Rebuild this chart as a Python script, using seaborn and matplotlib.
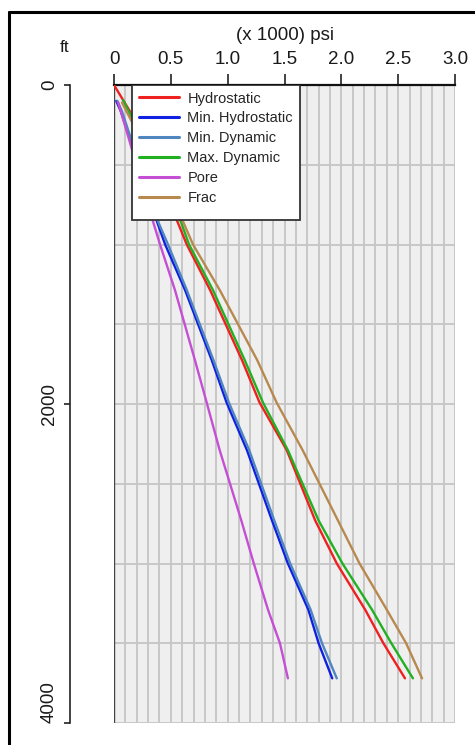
import numpy as np
import pandas as pd
import matplotlib
matplotlib.use("Agg")
import matplotlib.pyplot as plt
from matplotlib.lines import Line2D
from matplotlib.patches import Rectangle
import seaborn as sns

# Pressure profiles versus true vertical depth (pressure in thousands of psi)
series_names = ["Hydrostatic", "Min. Hydrostatic", "Min. Dynamic",
                "Max. Dynamic", "Pore", "Frac"]
series_colors = ["#ee2020", "#1020e0", "#4f86bf", "#22b022", "#c44fd4", "#b8894f"]

# shallow starting point of each curve
top_depth_ft = [0, 100, 100, 95, 107, 110]
top_psi_k = [0.0, 0.02, 0.03, 0.08, 0.035, 0.07]

# common reading depths below the surface section
depth_ft = [165, 860, 1000, 1285, 1725, 1990, 2290, 2730, 3000, 3290, 3500, 3720]

hydrostatic = [0.14, 0.56, 0.64, 0.845, 1.126, 1.28, 1.52, 1.77, 1.96, 2.21, 2.37, 2.56]
min_hydrostatic = [0.06, 0.38, 0.45, 0.625, 0.86, 0.99, 1.17, 1.39, 1.53, 1.71, 1.80, 1.92]
min_dynamic = [0.07, 0.39, 0.475, 0.64, 0.875, 1.01, 1.19, 1.41, 1.55, 1.73, 1.83, 1.96]
max_dynamic = [0.13, 0.59, 0.66, 0.87, 1.15, 1.31, 1.53, 1.80, 2.01, 2.27, 2.44, 2.63]
pore = [0.06, 0.345, 0.405, 0.536, 0.712, 0.815, 0.93, 1.12, 1.23, 1.355, 1.46, 1.53]
frac = [0.11, 0.61, 0.695, 0.93, 1.26, 1.43, 1.66, 1.97, 2.16, 2.40, 2.57, 2.71]

x_ticks = [0, 0.5, 1.0, 1.5, 2.0, 2.5, 3.0]
x_tick_labels = ["0", "0.5", "1.0", "1.5", "2.0", "2.5", "3.0"]
y_ticks = [0, 2000, 4000]
y_tick_labels = ["0", "2000", "4000"]

all_values = [hydrostatic, min_hydrostatic, min_dynamic, max_dynamic, pore, frac]
rows = []
for name, d0, p0, vals in zip(series_names, top_depth_ft, top_psi_k, all_values):
    rows.append((name, d0, p0))
    for d, p in zip(depth_ft, vals):
        if d > d0:
            rows.append((name, d, p))
df = pd.DataFrame(rows, columns=["series", "depth", "pressure"])

sns.set_style("white")
plt.rcParams["font.family"] = ["Liberation Sans", "DejaVu Sans"]

W, H = 475, 745
fig = plt.figure(figsize=(W / 100, H / 100), dpi=100)
left, right, top, bottom = 114, 455, 85, 723
ax = fig.add_axes([left / W, 1 - bottom / H, (right - left) / W, (bottom - top) / H])
ax.set_facecolor("#efefef")
ax.set_axisbelow(True)

sns.lineplot(data=df, x="pressure", y="depth", hue="series",
             hue_order=series_names, palette=series_colors,
             sort=False, estimator=None, orient="y", lw=1.7, ax=ax, zorder=3)

ax.set_xlim(0, 3.0)
ax.set_ylim(4000, 0)

# top pressure axis
ax.xaxis.tick_top()
ax.xaxis.set_label_position("top")
ax.set_xticks(x_ticks)
ax.set_xticklabels(x_tick_labels)
ax.set_xticks(np.arange(0, 3.001, 0.1), minor=True)
ax.set_xlabel("(x 1000) psi", fontsize=13.5, color="#1a1a1a", labelpad=8)

# offset depth axis
ax.set_yticks(y_ticks)
ax.set_yticklabels(y_tick_labels)
ax.set_yticks(np.arange(0, 4001, 500), minor=True)
ax.set_ylabel("")

ax.tick_params(axis="x", which="major", direction="out", length=8, width=1.2,
               color="#222222", pad=4, top=True, bottom=False,
               labelsize=13.5, labelcolor="#1a1a1a")
ax.tick_params(axis="y", which="major", direction="out", length=4, width=1.2,
               color="#222222", pad=4.7, left=True, labelsize=13.5,
               labelcolor="#1a1a1a", labelrotation=90)
ax.tick_params(which="minor", length=0)

ax.grid(which="both", color="#c6c6c6", lw=1.35)

for s in ("right", "bottom"):
    ax.spines[s].set_visible(False)
ax.spines["top"].set_color("#111111")
ax.spines["top"].set_linewidth(1.6)
ax.spines["left"].set_position(("outward", 44 * 72 / 100))
ax.spines["left"].set_color("#222222")
ax.spines["left"].set_linewidth(1.2)
ax.axvline(0, color="#444444", lw=1.0, zorder=2)

fig.text(65 / W, 1 - 47 / H, "ft", ha="center", va="center", fontsize=12.5,
         color="#1a1a1a")

# legend box
handles, labels = ax.get_legend_handles_labels()
ax.get_legend().remove()
box_x0, box_x1, box_y1 = 132, 300, 220
ax.add_patch(Rectangle(((box_x0 - left) / (right - left), 1 - (box_y1 - top) / (bottom - top)),
                       (box_x1 - box_x0) / (right - left), (box_y1 - top) / (bottom - top),
                       transform=ax.transAxes, facecolor="white", edgecolor="#333333",
                       lw=1.3, zorder=5))
leg = ax.legend(handles, labels, loc="upper left",
                bbox_to_anchor=((box_x0 - left) / (right - left), 1.0),
                borderaxespad=0, borderpad=0.45, frameon=False, fontsize=10.5,
                handlelength=2.8, handletextpad=0.55, labelspacing=0.4)
leg.set_zorder(6)
for line in leg.get_lines():
    line.set_linewidth(2.2)

# outer frame
fig.add_artist(Line2D([9 / W, 9 / W], [0, 1 - 12 / H], transform=fig.transFigure,
                      color="black", lw=2.2))
fig.add_artist(Line2D([9 / W, 1], [1 - 12 / H, 1 - 12 / H], transform=fig.transFigure,
                      color="black", lw=2.2))

# depth labels read bottom-to-top, centred on their ticks (last one sits above its tick)
fig.canvas.draw()
ylabels = ax.get_yticklabels()
for i, lbl in enumerate(ylabels):
    lbl.set_rotation(90)
    lbl.set_verticalalignment("bottom" if i == len(ylabels) - 1 else "center")
    lbl.set_horizontalalignment("right")
    lbl.set_fontsize(13.5)

fig.savefig("out.png", dpi=100)
